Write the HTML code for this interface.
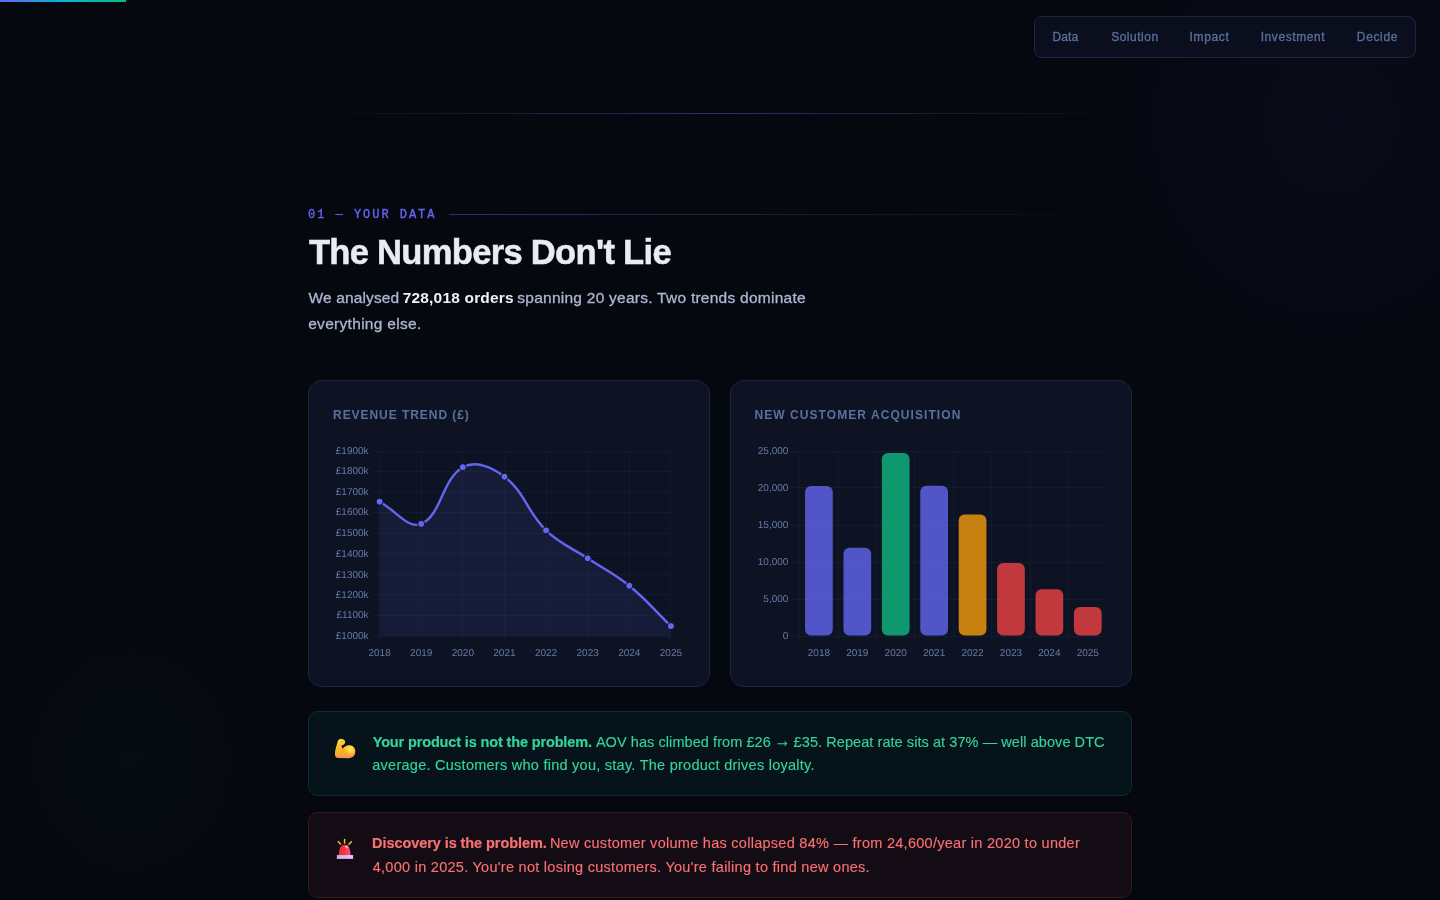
<!DOCTYPE html>
<html lang="en">
<head>
<meta charset="utf-8">
<title>The Numbers Don't Lie</title>
<style>
*{box-sizing:border-box;margin:0;padding:0}
html,body{width:1440px;height:900px;overflow:hidden;background:#060810}
body{font-family:"Liberation Sans",sans-serif;color:#e8ecf4;position:relative}
.glow{position:absolute;left:0;top:0;width:1440px;height:900px;pointer-events:none;
 background:radial-gradient(ellipse 330px 360px at 1330px 120px,rgba(70,85,210,.04),transparent 72%),radial-gradient(ellipse 180px 200px at 130px 760px,rgba(16,185,129,.022),transparent 70%)}
.progress{position:absolute;left:0;top:0;height:2px;width:126px;background:linear-gradient(90deg,#6366f1,#06b6d4,#10b981)}
nav{position:absolute;left:1034px;top:16px;width:382px;height:42px;border:1px solid #1c2748;border-radius:8px;background:#0b0e1c}
.t{position:absolute;white-space:nowrap;line-height:1.117;display:block}
.nv{color:#5a709f;font-weight:400;-webkit-text-stroke:.3px #5a709f}
.divider{position:absolute;left:308px;top:113px;width:824px;height:1px;background:linear-gradient(90deg,transparent,#263664 50%,transparent)}
.label{font-family:"Liberation Mono",monospace;color:#6366f1;-webkit-text-stroke:.35px #6366f1}
.labline{position:absolute;left:449px;top:214px;width:683px;height:1px;background:linear-gradient(90deg,#263664,transparent)}
h2,h3,p{font-weight:inherit;font-size:inherit}
.h2{font-weight:700;color:#e8ecf4;-webkit-text-stroke:.5px #e8ecf4}
.lead{color:#adb7d1;-webkit-text-stroke:.3px #adb7d1}
.lead b{color:#eef1f7;font-weight:700;-webkit-text-stroke:0}
.card{position:absolute;top:380px;width:402px;height:307px;border:1px solid #1b2545;border-radius:14px;background:#0e1323;overflow:hidden}
.ct{font-weight:700;color:#5a709f}
.gt{color:#34d399;-webkit-text-stroke:.15px #34d399}
.rt{color:#f87171;-webkit-text-stroke:.15px #f87171}
.chart{position:absolute;left:-1px;top:-1px}
.tk{font-family:"Liberation Sans",sans-serif;font-size:10px;fill:#667aa6;text-rendering:geometricPrecision}
.ins{position:absolute;left:308px;width:824px;border-radius:10px;border:1px solid}
.ico{position:absolute}
.ar{display:inline-block;transform:translateY(-1.6px) scale(1.12,1.3)}
.gt b,.rt b{font-weight:700;-webkit-text-stroke-width:.2px}
.g{top:711px;height:85px;background:#06131a;border-color:#0a2f2b;color:#34d399}
.r{top:812px;height:86px;background:#140c14;border-color:#3d161d;color:#f87171}
</style>
</head>
<body>
<div class="glow"></div>
<div class="progress"></div>
<nav></nav>
<span id="n1" class="t nv" style="left:1052.38px;top:31.34px;font-size:12px;letter-spacing:0.179px">Data</span>
<span id="n2" class="t nv" style="left:1111.16px;top:31.34px;font-size:12px;letter-spacing:0.516px">Solution</span>
<span id="n3" class="t nv" style="left:1189.51px;top:31.34px;font-size:12px;letter-spacing:0.669px">Impact</span>
<span id="n4" class="t nv" style="left:1260.65px;top:31.34px;font-size:12px;letter-spacing:0.588px">Investment</span>
<span id="n5" class="t nv" style="left:1356.85px;top:31.34px;font-size:12px;letter-spacing:0.646px">Decide</span>
<div class="divider"></div>
<span id="lab" class="t label" style="left:308.12px;top:209.14px;font-size:12px;letter-spacing:1.960px">01 — YOUR DATA</span>
<div class="labline"></div>
<h2><span id="h2" class="t h2" style="left:308.88px;top:232.89px;font-size:34.6px;letter-spacing:-0.716px">The Numbers Don't Lie</span></h2>
<p>
<span id="l1a" class="t lead" style="left:308.61px;top:289.17px;font-size:15.5px;letter-spacing:0.127px">We analysed</span>
<span id="l1b" class="t lead" style="left:402.69px;top:289.17px;font-size:15.5px;letter-spacing:0.182px"><b>728,018 orders</b></span>
<span id="l1c" class="t lead" style="left:517.25px;top:289.17px;font-size:15.5px;letter-spacing:0.256px">spanning 20 years. Two trends dominate</span>
<span id="l2" class="t lead" style="left:308.21px;top:314.67px;font-size:15.5px;letter-spacing:0.299px">everything else.</span>
</p>
<div class="card" style="left:308px">
<svg class="chart" width="402" height="307" viewBox="0 0 402 307">
<path d="M64 71.5H363M64 91.5H363M64 112.5H363M64 132.5H363M64 153.5H363M64 173.5H363M64 194.5H363M64 214.5H363M64 235.5H363M64 256.5H363" fill="none" stroke="#1e2a4a" stroke-opacity=".36" stroke-width="1"/><path d="M71.5 71V264M113.5 71V264M154.5 71V264M196.5 71V264M238.5 71V264M279.5 71V264M321.5 71V264M362.5 71V264" fill="none" stroke="#1e2a4a" stroke-opacity=".26" stroke-width="1"/>
<path d="M71.6 121.7C88.25 130.58 99.85 149.44 113.21 143.9C133.14 135.64 134.11 98.95 154.83 87.2C167.4 80.07 183.6 86.95 196.44 96.7C216.89 112.23 218.9 131.61 238.06 150.4C252.19 164.25 262.99 167.2 279.67 178.3C296.28 189.36 305.88 193.25 321.29 205.8C339.17 220.37 346.25 229.98 362.9 246.1L362.9 256L71.6 256Z" fill="#6366f1" fill-opacity=".1"/>
<path d="M71.6 121.7C88.25 130.58 99.85 149.44 113.21 143.9C133.14 135.64 134.11 98.95 154.83 87.2C167.4 80.07 183.6 86.95 196.44 96.7C216.89 112.23 218.9 131.61 238.06 150.4C252.19 164.25 262.99 167.2 279.67 178.3C296.28 189.36 305.88 193.25 321.29 205.8C339.17 220.37 346.25 229.98 362.9 246.1" fill="none" stroke="#6366f1" stroke-width="2.4" stroke-linecap="butt" stroke-linejoin="miter"/>
<circle cx="71.6" cy="121.7" r="3.55" fill="#6366f1" stroke="#0a0e1a" stroke-width="1"/>
<circle cx="113.21" cy="143.9" r="3.55" fill="#6366f1" stroke="#0a0e1a" stroke-width="1"/>
<circle cx="154.83" cy="87.2" r="3.55" fill="#6366f1" stroke="#0a0e1a" stroke-width="1"/>
<circle cx="196.44" cy="96.7" r="3.55" fill="#6366f1" stroke="#0a0e1a" stroke-width="1"/>
<circle cx="238.06" cy="150.4" r="3.55" fill="#6366f1" stroke="#0a0e1a" stroke-width="1"/>
<circle cx="279.67" cy="178.3" r="3.55" fill="#6366f1" stroke="#0a0e1a" stroke-width="1"/>
<circle cx="321.29" cy="205.8" r="3.55" fill="#6366f1" stroke="#0a0e1a" stroke-width="1"/>
<circle cx="362.9" cy="246.1" r="3.55" fill="#6366f1" stroke="#0a0e1a" stroke-width="1"/>
<g class="tk" text-anchor="end">
<text x="60.6" y="74">£1900k</text>
<text x="60.6" y="94">£1800k</text>
<text x="60.6" y="115">£1700k</text>
<text x="60.6" y="135">£1600k</text>
<text x="60.6" y="156">£1500k</text>
<text x="60.6" y="177">£1400k</text>
<text x="60.6" y="198">£1300k</text>
<text x="60.6" y="218">£1200k</text>
<text x="60.6" y="238">£1100k</text>
<text x="60.6" y="259">£1000k</text>
</g><g class="tk" text-anchor="middle">
<text x="71.6" y="276">2018</text>
<text x="113.21" y="276">2019</text>
<text x="154.83" y="276">2020</text>
<text x="196.44" y="276">2021</text>
<text x="238.06" y="276">2022</text>
<text x="279.67" y="276">2023</text>
<text x="321.29" y="276">2024</text>
<text x="362.9" y="276">2025</text>
</g></svg>
</div>
<div class="card" style="left:730px">
<svg class="chart" width="402" height="307" viewBox="0 0 402 307">
<path d="M61 71.5H377M61 107.5H377M61 145.5H377M61 182.5H377M61 219.5H377M61 256.5H377" fill="none" stroke="#1e2a4a" stroke-opacity=".36" stroke-width="1"/><path d="M69.5 71V264M108.5 71V264M146.5 71V264M184.5 71V264M223.5 71V264M261.5 71V264M300.5 71V264M338.5 71V264" fill="none" stroke="#1e2a4a" stroke-opacity=".26" stroke-width="1"/>
<rect x="75.06" y="106.1" width="27.7" height="149.5" rx="6" fill="#6366f1" fill-opacity=".8"/>
<rect x="113.47" y="167.8" width="27.7" height="87.8" rx="6" fill="#6366f1" fill-opacity=".8"/>
<rect x="151.88" y="73.05" width="27.7" height="182.55" rx="6" fill="#10b981" fill-opacity=".8"/>
<rect x="190.29" y="105.7" width="27.7" height="149.9" rx="6" fill="#6366f1" fill-opacity=".8"/>
<rect x="228.71" y="134.4" width="27.7" height="121.2" rx="6" fill="#f59e0b" fill-opacity=".8"/>
<rect x="267.12" y="182.9" width="27.7" height="72.7" rx="6" fill="#ef4444" fill-opacity=".8"/>
<rect x="305.53" y="209.2" width="27.7" height="46.4" rx="6" fill="#ef4444" fill-opacity=".8"/>
<rect x="343.94" y="226.9" width="27.7" height="28.7" rx="6" fill="#ef4444" fill-opacity=".8"/>
<g class="tk" text-anchor="end">
<text x="58.4" y="74">25,000</text>
<text x="58.4" y="111">20,000</text>
<text x="58.4" y="148">15,000</text>
<text x="58.4" y="185">10,000</text>
<text x="58.4" y="222">5,000</text>
<text x="58.4" y="259">0</text>
</g><g class="tk" text-anchor="middle">
<text x="88.91" y="276">2018</text>
<text x="127.32" y="276">2019</text>
<text x="165.73" y="276">2020</text>
<text x="204.14" y="276">2021</text>
<text x="242.56" y="276">2022</text>
<text x="280.97" y="276">2023</text>
<text x="319.38" y="276">2024</text>
<text x="357.79" y="276">2025</text>
</g></svg>
</div>
<h3><span id="c1" class="t ct" style="left:333.05px;top:409.14px;font-size:12px;letter-spacing:0.945px">REVENUE TREND (£)</span></h3>
<h3><span id="c2" class="t ct" style="left:754.5px;top:409.14px;font-size:12px;letter-spacing:1.065px">NEW CUSTOMER ACQUISITION</span></h3>
<div class="ins g"></div>
<svg class="ico" style="left:328px;top:732px" width="36" height="32" viewBox="0 0 36 32" role="img" aria-label="💪">
<defs>
<linearGradient id="ag" x1="0" y1="0" x2="0" y2="1"><stop offset="0" stop-color="#ffd43e"/><stop offset=".55" stop-color="#fdb72b"/><stop offset=".86" stop-color="#f9a438"/><stop offset="1" stop-color="#ef8a72"/></linearGradient>
<radialGradient id="ah" cx="22.6" cy="17.2" r="6.5" gradientUnits="userSpaceOnUse"><stop offset="0" stop-color="#fff066"/><stop offset=".5" stop-color="#ffd83f" stop-opacity=".75"/><stop offset="1" stop-color="#fdb92c" stop-opacity="0"/></radialGradient>
<radialGradient id="af" cx="12.6" cy="9" r="4.2" gradientUnits="userSpaceOnUse"><stop offset="0" stop-color="#ffe04a"/><stop offset="1" stop-color="#ffc531" stop-opacity="0"/></radialGradient>
</defs>
<path d="M9.6 26.1C7.6 25.6 6.8 23.9 6.9 21.6C7.1 18.2 8.3 14.2 9.2 11.6C9.3 9.2 10.6 7 13.3 6.9C15.7 6.8 17.3 8.2 17.2 10C17.1 11.6 16.1 12.8 14.7 12.9C13.9 13 13.4 13.4 13.5 14.1C13.7 15.1 14.1 16.1 14.6 16.9C16.2 14.6 18.6 13.3 21.2 13.3C24.7 13.3 27.3 16.2 27.3 19.6C27.3 23.4 24.6 26.2 20.7 26.2Z" fill="url(#ag)"/>
<path d="M9.6 26.1C7.6 25.6 6.8 23.9 6.9 21.6C7.1 18.2 8.3 14.2 9.2 11.6C9.3 9.2 10.6 7 13.3 6.9C15.7 6.8 17.3 8.2 17.2 10C17.1 11.6 16.1 12.8 14.7 12.9C13.9 13 13.4 13.4 13.5 14.1C13.7 15.1 14.1 16.1 14.6 16.9C16.2 14.6 18.6 13.3 21.2 13.3C24.7 13.3 27.3 16.2 27.3 19.6C27.3 23.4 24.6 26.2 20.7 26.2Z" fill="url(#ah)"/>
<ellipse cx="13" cy="9.4" rx="3.4" ry="2.6" fill="url(#af)"/>
<ellipse cx="14" cy="9.6" rx="1.3" ry=".8" fill="#f9a21e" opacity=".8"/>
<path d="M14.6 16.9C15.6 19.6 17.3 22.3 19.6 24.2" fill="none" stroke="#f7a526" stroke-width="1.1" stroke-linecap="round" opacity=".55"/>
</svg>
<div class="ins r"></div>
<svg class="ico" style="left:328px;top:833px" width="36" height="32" viewBox="0 0 36 32" role="img" aria-label="🚨">
<defs>
<linearGradient id="sd" x1="0" y1="0" x2="1" y2="0"><stop offset="0" stop-color="#f4303a"/><stop offset=".35" stop-color="#f8312f"/><stop offset="1" stop-color="#ff4f8e"/></linearGradient>
<linearGradient id="sb" x1="0" y1="0" x2="1" y2="1"><stop offset="0" stop-color="#b8a4d9"/><stop offset=".6" stop-color="#d9caee"/><stop offset="1" stop-color="#e8d2fb"/></linearGradient>
<radialGradient id="sh" cx="18.7" cy="13.9" r="2.2" gradientUnits="userSpaceOnUse"><stop offset="0" stop-color="#fff" stop-opacity=".95"/><stop offset="1" stop-color="#ff8aa0" stop-opacity="0"/></radialGradient>
</defs>
<g stroke="#f7b93b" stroke-width="1.5" stroke-linecap="butt"><path d="M16.6 5.9V10.7"/><path d="M9.9 8.3L12.9 11.6"/><path d="M23.8 8.3L20.5 11.6"/></g>
<path d="M10.8 22.2C11 18.5 11.6 15.6 12.6 13.9C13.5 12.4 14.9 11.7 16.7 11.7C18.5 11.7 19.9 12.4 20.8 13.9C21.8 15.6 22.4 18.5 22.6 22.2Z" fill="url(#sd)"/>
<circle cx="18.7" cy="13.9" r="2.2" fill="url(#sh)"/>
<rect x="8.9" y="21.9" width="16.2" height="4" rx=".5" fill="url(#sb)"/>
<rect x="8.9" y="24.8" width="16.2" height="1.1" rx=".5" fill="#c795e8" opacity=".8"/>
</svg>
<p class="gt">
<span id="g1a" class="t gt" style="left:372.7px;top:733.78px;font-size:14.5px;letter-spacing:-0.142px"><b>Your product is not the problem.</b></span>
<span id="g1b" class="t gt" style="left:595.88px;top:733.78px;font-size:14.5px;letter-spacing:0.070px">AOV has climbed from £26 <span class="ar">→</span> £35. Repeat rate sits at 37% — well above DTC</span>
<span id="g2" class="t gt" style="left:372.29px;top:757.48px;font-size:14.5px;letter-spacing:0.257px">average. Customers who find you, stay. The product drives loyalty.</span>
</p>
<p class="rt">
<span id="r1a" class="t rt" style="left:372.06px;top:835.08px;font-size:14.5px;letter-spacing:-0.072px"><b>Discovery is the problem.</b></span>
<span id="r1b" class="t rt" style="left:549.88px;top:835.08px;font-size:14.5px;letter-spacing:0.273px">New customer volume has collapsed 84% — from 24,600/year in 2020 to under</span>
<span id="r2" class="t rt" style="left:372.7px;top:858.88px;font-size:14.5px;letter-spacing:0.275px">4,000 in 2025. You're not losing customers. You're failing to find new ones.</span>
</p>
</body>
</html>
